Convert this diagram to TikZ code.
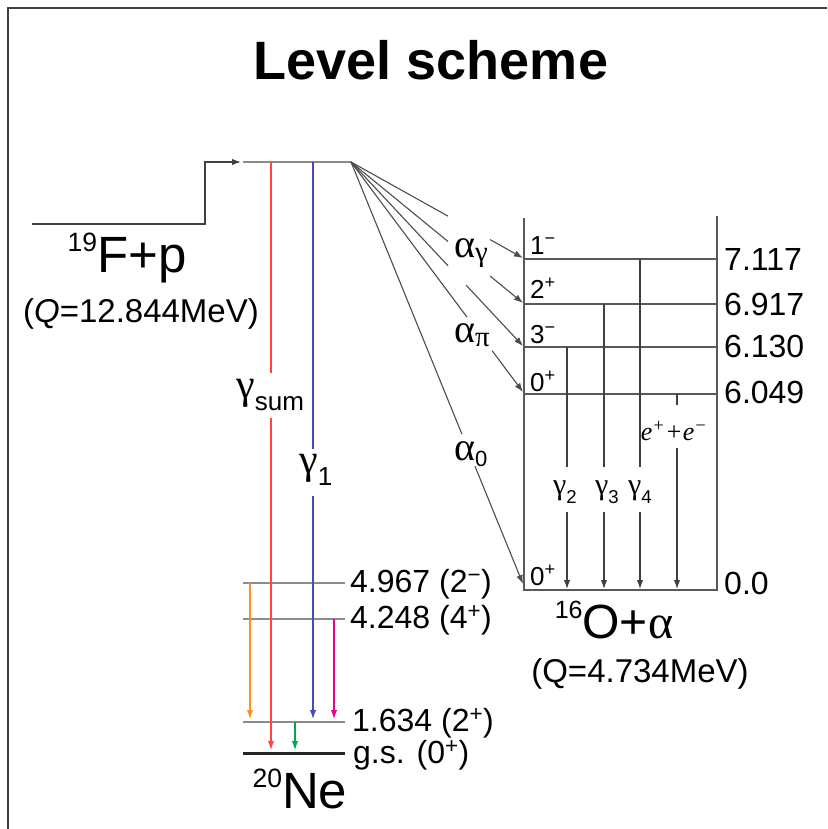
\documentclass[tikz,border=0pt]{standalone}
\usepackage{fontspec}
\setmainfont{Liberation Sans}
\newfontfamily\grk{Liberation Serif}
\usepackage{xcolor}
\usepackage{tikz}
\usetikzlibrary{arrows.meta,calc}
\definecolor{lsred}{HTML}{FF4545}
\definecolor{lsblue}{HTML}{4B4BB4}
\definecolor{lsorange}{HTML}{F7941D}
\definecolor{lsmag}{HTML}{EC008C}
\definecolor{lsgreen}{HTML}{00A651}
\newcommand{\mass}[1]{\raisebox{0.4em}{\scalebox{0.52}{#1}}}
\newcommand{\glab}[2]{{\grk #1}\raisebox{-0.3em}{\scalebox{0.62}{#2}}}
\tikzset{
  lsch/.style={x=1pt, y=-1pt},
  ls frame/.style={draw=black!75, line width=2.2pt},
  ls title/.style={font=\fontsize{54}{54}\selectfont\bfseries, anchor=base},
  ls big/.style={font=\fontsize{51}{51}\selectfont, anchor=base},
  ls mid/.style={font=\fontsize{48}{48}\selectfont, anchor=base},
  ls q/.style={font=\fontsize{33}{33}\selectfont, anchor=base},
  ls en/.style={font=\fontsize{32}{32}\selectfont, anchor=base west, inner sep=0pt},
  ls spin/.style={font=\fontsize{26}{26}\selectfont, anchor=base west, inner sep=0pt},
  ls alab/.style={font=\fontsize{40}{40}\selectfont, anchor=base west, inner sep=0pt},
  ls glab/.style={font=\fontsize{42}{42}\selectfont, anchor=base west, inner sep=0pt},
  ls gsm/.style={font=\fontsize{30}{30}\selectfont, anchor=base west, inner sep=0pt},
  ls lev/.style={draw=black!45, line width=1.8pt},
  ls gs/.style={draw=black!85, line width=3pt},
  ls box/.style={draw=black!65, line width=1.5pt},
  ls arr/.style={-{Latex[length=9pt, width=6.5pt]}},
  ls line/.style={draw=black!75, line width=1.2pt},
  ls alpha/.style={draw=black!70, line width=1.1pt},
  ls tr/.style={line width=1.3pt},
}

\begin{document}
\begin{tikzpicture}[lsch]
\useasboundingbox (0,0) rectangle (827,829);
% ---- frame and title ----
\coordinate (fr1) at (827,8); \coordinate (fr2) at (8,8); \coordinate (fr3) at (8,829);
\draw[ls frame] (fr1) -- (fr2) -- (fr3);
\node[ls title] (title) at (431,80) {Level scheme};
% ---- entrance channel 19F+p ----
\coordinate (in0) at (32,224); \coordinate (in1) at (205,224);
\coordinate (in2) at (205,162); \coordinate (in3) at (241,162);
\draw[ls line, ls arr] (in0) -- (in1) -- (in2) -- (in3);
\node[ls big] (fp) at (127,272) {\mass{19}F+p};
\node[ls q] (fpq) at (141,322) {(\textit{Q}=12.844MeV)};
\coordinate (cl) at (243,162); \coordinate (cn) at (351,162);
\draw[ls lev, line width=1.5pt] (cl) -- (cn);
% ---- 20Ne levels ----
\coordinate (n4l) at (243,583); \coordinate (n4r) at (345,583);
\coordinate (n3l) at (243,619); \coordinate (n3r) at (345,619);
\coordinate (n2l) at (243,722); \coordinate (n2r) at (345,722);
\coordinate (n1l) at (243,753); \coordinate (n1r) at (345,753);
\draw[ls lev] (n4l) -- (n4r); \draw[ls lev] (n3l) -- (n3r); \draw[ls lev] (n2l) -- (n2r);
\draw[ls gs] (n1l) -- (n1r);
\node[ls en] (e4967) at (350,592) {4.967 (2\textsuperscript{−})};
\node[ls en] (e4248) at (350,628) {4.248 (4\textsuperscript{+})};
\node[ls en] (e1634) at (352,731) {1.634 (2\textsuperscript{+})};
\node[ls en] (egs) at (353,763) {g.s. (0\textsuperscript{+})};
\node[ls big] (ne) at (300,808) {\mass{20}Ne};
% ---- gamma transitions in 20Ne ----
\coordinate (rs) at (271,162); \coordinate (rg1) at (271,373); \coordinate (rg2) at (271,418); \coordinate (re) at (271,750);
\draw[ls tr, lsred] (rs) -- (rg1); \draw[ls tr, lsred, ls arr] (rg2) -- (re);
\node[ls glab] (gsum) at (236,398) {\glab{γ}{sum}};
\coordinate (bs) at (313,162); \coordinate (bg1) at (313,449); \coordinate (bg2) at (313,496); \coordinate (be) at (313,719);
\draw[ls tr, lsblue] (bs) -- (bg1); \draw[ls tr, lsblue, ls arr] (bg2) -- (be);
\node[ls glab] (g1) at (299,473) {\glab{γ}{1}};
\coordinate (os) at (250,583); \coordinate (oe) at (250,719);
\draw[ls tr, lsorange, ls arr] (os) -- (oe);
\coordinate (ms) at (334,619); \coordinate (me) at (334,719);
\draw[ls tr, lsmag, ls arr] (ms) -- (me);
\coordinate (gs0) at (295,722); \coordinate (ge) at (295,750);
\draw[ls tr, lsgreen, ls arr] (gs0) -- (ge);
% ---- 16O+alpha box ----
\coordinate (ob1) at (524,218); \coordinate (ob2) at (524,590);
\coordinate (ob3) at (717,590); \coordinate (ob4) at (717,216);
\draw[ls box] (ob1) -- (ob2) -- (ob3) -- (ob4);
\coordinate (o7l) at (524,259); \coordinate (o7r) at (717,259);
\coordinate (o6l) at (524,304); \coordinate (o6r) at (717,304);
\coordinate (o5l) at (524,347); \coordinate (o5r) at (717,347);
\coordinate (o4l) at (524,394); \coordinate (o4r) at (717,394);
\draw[ls box] (o7l) -- (o7r); \draw[ls box] (o6l) -- (o6r);
\draw[ls box] (o5l) -- (o5r); \draw[ls box] (o4l) -- (o4r);
\node[ls spin] (s7) at (530,254) {1\textsuperscript{−}};
\node[ls spin] (s6) at (530,298) {2\textsuperscript{+}};
\node[ls spin] (s5) at (530,343) {3\textsuperscript{−}};
\node[ls spin] (s4) at (530,391) {0\textsuperscript{+}};
\node[ls spin] (s0) at (530,585) {0\textsuperscript{+}};
\node[ls en] (e7117) at (724,270) {7.117};
\node[ls en] (e6917) at (724,315) {6.917};
\node[ls en] (e6130) at (724,357) {6.130};
\node[ls en] (e6049) at (724,403) {6.049};
\node[ls en] (e00) at (724,594) {0.0};
\node[ls mid] (oa) at (614,638) {\mass{16}O+{\grk α}};
\node[ls q] (oaq) at (640,682) {(Q=4.734MeV)};
% ---- gamma and pair decays in 16O ----
\coordinate (g2s) at (567,347); \coordinate (g2a) at (567,467); \coordinate (g2b) at (567,512); \coordinate (g2e) at (567,589);
\coordinate (g3s) at (604,304); \coordinate (g3a) at (604,467); \coordinate (g3b) at (604,512); \coordinate (g3e) at (604,589);
\coordinate (g4s) at (640,259); \coordinate (g4a) at (640,467); \coordinate (g4b) at (640,512); \coordinate (g4e) at (640,589);
\coordinate (eps) at (677,394); \coordinate (epa) at (677,405); \coordinate (epb) at (677,448); \coordinate (epe) at (677,589);
\draw[ls line] (g2s) -- (g2a); \draw[ls line, ls arr] (g2b) -- (g2e);
\draw[ls line] (g3s) -- (g3a); \draw[ls line, ls arr] (g3b) -- (g3e);
\draw[ls line] (g4s) -- (g4a); \draw[ls line, ls arr] (g4b) -- (g4e);
\draw[ls line] (eps) -- (epa); \draw[ls line, ls arr] (epb) -- (epe);
\node[ls gsm] (lg2) at (553,494) {\glab{γ}{2}};
\node[ls gsm] (lg3) at (595,494) {\glab{γ}{3}};
\node[ls gsm] (lg4) at (628,494) {\glab{γ}{4}};
\node[font=\fontsize{26}{26}\selectfont\grk\itshape, inner sep=0pt] (lep) at (674,431) {e\textsuperscript{+}+e\textsuperscript{−}};
% ---- alpha decays ----
\coordinate (a1) at (523,258); \coordinate (a2) at (523,303); \coordinate (a3) at (523,346);
\coordinate (a4) at (523,392); \coordinate (a0) at (523,584);
\draw[ls alpha] (cn) -- ($(cn)!0.564!(a1)$); \draw[ls alpha, ls arr] ($(cn)!0.808!(a1)$) -- (a1);
\draw[ls alpha] (cn) -- ($(cn)!0.564!(a2)$); \draw[ls alpha, ls arr] ($(cn)!0.808!(a2)$) -- (a2);
\draw[ls alpha] (cn) -- ($(cn)!0.564!(a3)$); \draw[ls alpha, ls arr] ($(cn)!0.669!(a3)$) -- (a3);
\draw[ls alpha] (cn) -- ($(cn)!0.674!(a4)$); \draw[ls alpha, ls arr] ($(cn)!0.820!(a4)$) -- (a4);
\draw[ls alpha] (cn) -- ($(cn)!0.645!(a0)$); \draw[ls alpha, ls arr] ($(cn)!0.721!(a0)$) -- (a0);
\node[ls alab] (lag) at (454,257) {{\grk α\raisebox{-0.12em}{\scalebox{0.72}{γ}}}};
\node[ls alab] (lap) at (454,342) {{\grk α\raisebox{-0.1em}{\scalebox{0.72}{π}}}};
\node[ls alab] (la0) at (454,460) {{\grk α}\raisebox{-0.15em}{\scalebox{0.55}{0}}};
\end{tikzpicture}
\end{document}
